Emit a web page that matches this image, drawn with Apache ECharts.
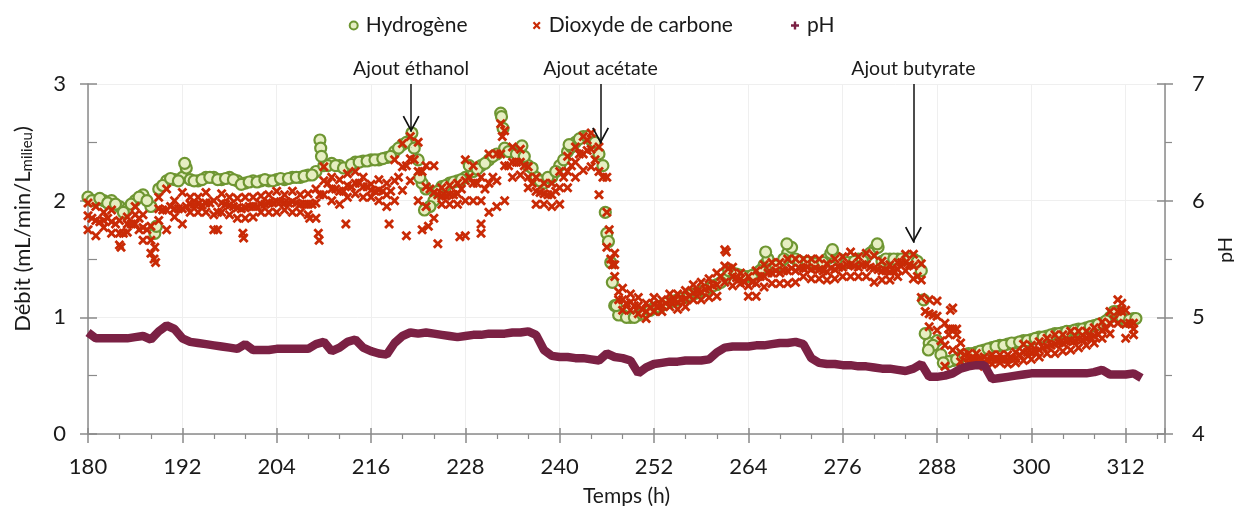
<!DOCTYPE html>
<html>
<head>
<meta charset="utf-8">
<script src="https://cdn.jsdelivr.net/npm/echarts@6/dist/echarts.min.js"></script>
<style>
html,body{margin:0;padding:0;background:#fff;}
#chart{width:1234px;height:506px;}
</style>
</head>
<body>
<div id="chart"></div>
<script>
// ---- Data ----
// Sampling grid: whole hours from 180 h, and half hours from 180.5 h
const startHour = 180;
// Hydrogène (mL/min/L) at whole hours 180 h .. 313 h
const h2 = [
  2.03,2.0,2.0,2.0,1.95,1.93,2.0,2.05,1.95,2.1,
  2.17,2.18,2.2,2.18,2.17,2.2,2.2,2.18,2.2,2.17,
  2.15,2.17,2.17,2.17,2.18,2.18,2.2,2.2,2.22,2.25,
  2.3,2.32,2.3,2.28,2.33,2.34,2.35,2.35,2.37,2.42,
  2.48,2.5,2.35,2.1,2.0,2.12,2.15,2.17,2.2,2.25,
  2.3,2.35,2.4,2.45,2.42,2.45,2.3,2.2,2.15,2.2,
  2.3,2.42,2.5,2.55,2.52,2.4,1.72,1.1,1.02,1.0,
  1.02,1.05,1.08,1.1,1.13,1.15,1.17,1.2,1.22,1.25,
  1.28,1.33,1.38,1.36,1.35,1.38,1.45,1.43,1.45,1.55,
  1.5,1.47,1.47,1.45,1.5,1.52,1.47,1.47,1.5,1.52,
  1.58,1.48,1.5,1.5,1.5,1.5,1.4,0.78,0.8,0.62,
  0.63,0.66,0.69,0.7,0.72,0.74,0.76,0.77,0.78,0.8,
  0.81,0.83,0.84,0.86,0.87,0.88,0.9,0.91,0.93,0.95,
  1.0,1.05,0.97,0.99
];
// Hydrogène at half hours 180.5 h .. 312.5 h
const h2Half = [
  2.0,2.02,1.98,1.97,1.9,1.97,2.03,2.0,1.72,2.13,
  2.19,2.17,2.28,2.17,2.18,2.2,2.18,2.19,2.18,2.14,
  2.16,2.16,2.18,2.17,2.19,2.19,2.2,2.21,2.22,2.52,
  2.3,2.3,2.28,2.31,2.33,2.34,2.35,2.36,2.38,2.45,
  2.5,2.45,2.15,1.95,2.08,2.13,2.16,2.18,2.3,2.27,
  2.32,2.38,2.75,2.42,2.4,2.38,2.28,2.17,2.2,2.25,
  2.35,2.46,2.53,2.55,2.5,2.3,1.47,1.02,1.0,1.0,
  1.03,1.06,1.09,1.12,1.14,1.16,1.19,1.21,1.23,1.27,
  1.3,1.4,1.37,1.35,1.36,1.4,1.5,1.44,1.5,1.6,
  1.48,1.47,1.46,1.47,1.55,1.5,1.47,1.48,1.5,1.55,
  1.6,1.5,1.5,1.5,1.5,1.48,0.86,0.76,0.68,0.62,
  0.64,0.68,0.69,0.71,0.73,0.75,0.76,0.78,0.79,0.8,
  0.82,0.83,0.85,0.86,0.88,0.89,0.9,0.92,0.94,0.97,
  1.05,1.0,0.98
];
// Extra hydrogen points (spikes and steep drops) as [h, value]
const h2Extra = [
  [188.7,1.78],[192.3,2.32],[209.6,2.45],[209.7,2.38],[221.2,2.58],[222.2,2.2],[222.8,1.92],
  [232.6,2.72],[232.8,2.62],[235.2,2.47],[241.2,2.48],[245.8,1.9],[246.2,1.65],[246.7,1.3],
  [247.2,1.1],[266.2,1.56],[268.9,1.63],[274.7,1.58],[280.4,1.63],[286.3,1.15],[286.9,0.72],
  [288.8,0.61],[313.3,0.99]
];
// Dioxyde de carbone: upper edge, middle and lower edge of the band at whole hours 180 h .. 313 h
const co2High = [
  1.98,1.95,1.9,1.92,1.83,1.86,1.95,1.88,1.78,2.03,
  2.1,2.0,2.07,2.03,2.03,2.07,2.0,2.06,2.03,2.02,
  2.03,2.03,2.04,2.05,2.08,2.05,2.08,2.05,2.06,2.1,
  2.29,2.2,2.18,2.23,2.25,2.2,2.14,2.18,2.15,2.35,
  2.49,2.55,2.5,2.3,2.3,2.11,2.13,2.15,2.35,2.3,
  2.2,2.4,2.4,2.6,2.46,2.44,2.29,2.2,2.15,2.15,
  2.25,2.38,2.46,2.55,2.58,2.46,2.2,1.55,1.25,1.2,
  1.17,1.12,1.17,1.15,1.2,1.2,1.23,1.28,1.3,1.33,
  1.38,1.58,1.43,1.38,1.35,1.4,1.45,1.47,1.47,1.5,
  1.5,1.5,1.5,1.5,1.46,1.5,1.52,1.56,1.52,1.55,
  1.53,1.48,1.45,1.47,1.54,1.54,1.46,1.15,1.14,0.95,
  1.08,0.78,0.69,0.69,0.66,0.68,0.68,0.68,0.7,0.77,
  0.76,0.79,0.82,0.85,0.85,0.88,0.88,0.88,0.91,0.96,
  1.05,1.15,1.06,0.95
];
const co2Mid = [
  1.87,1.83,1.83,1.82,1.72,1.8,1.88,1.77,1.66,1.93,
  1.92,1.93,1.93,1.97,1.97,1.98,1.88,1.98,1.96,1.94,
  1.94,1.95,1.97,1.98,1.99,1.98,1.99,1.97,1.97,1.98,
  2.17,2.1,2.08,2.13,2.15,2.12,2.09,2.09,2.05,2.17,
  2.29,2.36,2.25,2.12,2.07,2.04,2.05,2.06,2.17,2.15,
  2.0,2.15,2.17,2.3,2.33,2.33,2.2,2.08,2.06,2.05,
  2.11,2.25,2.33,2.4,2.44,2.25,1.9,1.45,1.15,1.13,
  1.1,1.05,1.11,1.1,1.14,1.13,1.16,1.21,1.22,1.25,
  1.28,1.44,1.35,1.33,1.27,1.29,1.35,1.38,1.38,1.4,
  1.4,1.42,1.41,1.41,1.39,1.41,1.43,1.45,1.43,1.45,
  1.42,1.4,1.39,1.41,1.47,1.44,1.32,1.03,1.01,0.76,
  0.9,0.7,0.65,0.64,0.62,0.64,0.64,0.64,0.65,0.7,
  0.7,0.72,0.75,0.77,0.78,0.8,0.81,0.82,0.84,0.89,
  0.95,1.05,0.94,0.9
];
const co2Low = [
  1.75,1.7,1.77,1.72,1.62,1.73,1.8,1.66,1.55,1.83,
  1.75,1.86,1.8,1.9,1.9,1.9,1.75,1.9,1.88,1.85,
  1.85,1.86,1.9,1.9,1.9,1.92,1.9,1.9,1.88,1.85,
  2.05,2.0,1.97,2.03,2.06,2.03,2.03,2.0,1.95,2.0,
  2.09,2.17,2.0,1.95,1.85,1.97,1.97,1.97,2.0,2.0,
  1.8,1.9,1.95,2.0,2.2,2.22,2.11,1.97,1.97,1.95,
  1.97,2.11,2.2,2.26,2.29,2.05,1.6,1.35,1.06,1.06,
  1.03,0.99,1.05,1.05,1.09,1.07,1.09,1.15,1.15,1.17,
  1.18,1.3,1.27,1.29,1.18,1.18,1.26,1.29,1.29,1.29,
  1.3,1.35,1.33,1.33,1.32,1.33,1.35,1.35,1.35,1.35,
  1.3,1.32,1.32,1.35,1.4,1.33,1.17,0.92,0.89,0.58,
  0.72,0.62,0.61,0.6,0.58,0.6,0.61,0.6,0.61,0.63,
  0.64,0.66,0.69,0.69,0.71,0.72,0.74,0.76,0.78,0.82,
  0.86,0.95,0.82,0.85
];
// Dioxyde de carbone: middle of the band at half hours 180.5 h .. 312.5 h
const co2Half = [
  1.85,1.82,1.85,1.8,1.72,1.8,1.85,1.75,1.6,1.92,
  1.95,1.93,1.95,1.97,1.96,1.98,1.9,1.97,1.95,1.93,
  1.95,1.95,1.97,1.98,1.99,1.98,1.98,1.97,1.97,2.05,
  2.15,2.1,2.08,2.12,2.15,2.12,2.08,2.08,2.08,2.2,
  2.3,2.35,2.25,2.1,2.05,2.04,2.05,2.1,2.2,2.15,
  2.1,2.2,2.4,2.3,2.33,2.3,2.15,2.07,2.05,2.08,
  2.2,2.3,2.4,2.43,2.35,2.2,1.5,1.15,1.12,1.1,
  1.07,1.08,1.1,1.12,1.14,1.15,1.18,1.22,1.24,1.27,
  1.35,1.42,1.34,1.3,1.3,1.35,1.38,1.4,1.4,1.42,
  1.42,1.43,1.42,1.4,1.42,1.43,1.45,1.44,1.45,1.43,
  1.41,1.4,1.4,1.47,1.45,1.35,1.05,1.02,0.8,0.9,
  0.85,0.68,0.65,0.64,0.63,0.64,0.65,0.65,0.68,0.7,
  0.71,0.74,0.76,0.78,0.79,0.8,0.81,0.83,0.85,0.9,
  0.98,1.05,0.95
];
// Extra carbon dioxide points (outliers, steep parts) as [h, value]
const co2Extra = [
  [184.2,1.6],[186.5,1.75],[188.4,1.5],[188.6,1.47],[196.5,1.75],[199.7,1.72],[199.8,1.68],
  [208.2,1.85],[209.3,1.72],[209.4,1.66],[212.8,1.8],[218.3,1.8],[220.5,1.7],[222.5,1.75],
  [223.3,1.78],[224.5,1.63],[227.3,1.69],[228,1.7],[230,1.72],[232.5,2.66],[232.7,2.55],
  [243.5,2.52],[246.3,1.75],[246.7,1.45],[247.5,1.22],[261.2,1.56],[289.5,0.85],[289.7,1.06],
  [290.5,0.9],[311.5,1.12]
];
// pH at whole hours 180 h .. 314 h
const ph = [
  4.87,4.82,4.82,4.82,4.82,4.82,4.83,4.84,4.81,4.88,
  4.93,4.9,4.82,4.79,4.78,4.77,4.76,4.75,4.74,4.73,
  4.77,4.72,4.72,4.72,4.73,4.73,4.73,4.73,4.73,4.77,
  4.79,4.71,4.74,4.79,4.81,4.74,4.71,4.69,4.68,4.78,
  4.84,4.87,4.86,4.87,4.86,4.85,4.84,4.83,4.84,4.85,
  4.85,4.86,4.86,4.86,4.87,4.87,4.88,4.85,4.72,4.67,
  4.66,4.66,4.65,4.65,4.64,4.63,4.69,4.66,4.65,4.63,
  4.52,4.57,4.6,4.61,4.62,4.62,4.63,4.63,4.63,4.64,
  4.7,4.74,4.75,4.75,4.75,4.76,4.76,4.77,4.78,4.78,
  4.79,4.77,4.65,4.61,4.6,4.6,4.59,4.59,4.58,4.58,
  4.57,4.56,4.56,4.55,4.54,4.56,4.6,4.49,4.49,4.5,
  4.52,4.56,4.58,4.59,4.59,4.47,4.48,4.49,4.5,4.51,
  4.52,4.52,4.52,4.52,4.52,4.52,4.52,4.52,4.53,4.55,
  4.51,4.51,4.51,4.52,4.48
];
// Annotations: [label, hour, arrow tip value]
const notes = [
  ['Ajout éthanol', 221.1, 2.59],
  ['Ajout acétate', 245.2, 2.49],
  ['Ajout butyrate', 285.0, 1.64]
];

const FONT = 'Lato, "Open Sans", sans-serif';
const pairs = (arr) => arr.map((v, i) => [startHour + i, v]);
const halfPairs = (arr) => arr.map((v, i) => [startHour + 0.5 + i, v]);

const xMark = 'path://M0,2L2,0L5,3L8,0L10,2L7,5L10,8L8,10L5,7L2,10L0,8L3,5Z';
const plusMark = 'path://M3.5,0H6.5V3.5H10V6.5H6.5V10H3.5V6.5H0V3.5H3.5Z';
const chevron = 'path://M5,0L5.2,0.3L4.8,0.3Z M5,10L10,20L9.1,20.5L5,12.2L0.9,20.5L0,20Z';

const axisGrey = '#8a8a8a';
const txt = '#1a1a1a';
const green = '#6e9632', greenFill = '#e6eec2', red = '#c92a06', purple = '#7b2144';
const chart = echarts.init(document.getElementById('chart'), null, {renderer: 'canvas'});

const legendBase = {
  top: 15, padding: 0, itemWidth: 8, itemHeight: 8,
  textStyle: {fontFamily: FONT, fontSize: 21, color: txt, padding: [0, 0, 0, 3]}
};

chart.setOption({
  animation: false,
  backgroundColor: '#ffffff',
  textStyle: {fontFamily: FONT},
  legend: [
    Object.assign({}, legendBase, {left: 348.7, data: [{name: 'Hydrogène'}]}),
    Object.assign({}, legendBase, {left: 532.7, data: [{name: 'Dioxyde de carbone'}]}),
    Object.assign({}, legendBase, {left: 791, data: [{name: 'pH', icon: plusMark}]})
  ],
  grid: {left: 88, right: 69, top: 84, bottom: 72, containLabel: false, outerBoundsMode: 'none'},
  xAxis: [{
    type: 'value', min: 180, max: 317, interval: 12,
    name: 'Temps (h)', nameLocation: 'middle', nameGap: 52,
    nameTextStyle: {fontFamily: FONT, fontSize: 21, color: txt},
    axisLine: {show: true, onZero: false, lineStyle: {color: axisGrey, width: 1.5}},
    axisTick: {show: true, length: 9, lineStyle: {color: axisGrey, width: 1.5}},
    minorTick: {show: true, splitNumber: 3, length: 5, lineStyle: {color: axisGrey, width: 1.2}},
    axisLabel: {fontFamily: FONT, fontSize: 22, color: txt, margin: 22,
      formatter: v => (v % 12 === 0 ? String(v) : '')},
    splitLine: {show: true, lineStyle: {color: '#efefef', width: 1}}
  }, {
    type: 'value', min: 180, max: 317, interval: 12, position: 'bottom',
    axisLine: {show: false}, axisLabel: {show: false}, splitLine: {show: false},
    axisTick: {show: true, inside: true, length: 6, lineStyle: {color: axisGrey, width: 1.5}}
  }],
  yAxis: [{
    type: 'value', min: 0, max: 3, interval: 1, position: 'left',
    name: 'Débit (mL/min/L{sub|milieu})', nameLocation: 'middle', nameGap: 53, nameRotate: 90,
    nameTextStyle: {fontFamily: FONT, fontSize: 22, color: txt, padding: [0, 0, 0, 60],
      rich: {sub: {fontFamily: FONT, fontSize: 15, color: txt, verticalAlign: 'bottom', padding: [9, 0, 0, 0]}}},
    axisLine: {show: true, onZero: false, lineStyle: {color: axisGrey, width: 1.5}},
    axisTick: {show: true, length: 8, lineStyle: {color: axisGrey, width: 1.5}},
    axisLabel: {fontFamily: FONT, fontSize: 22, color: txt, margin: 22},
    splitLine: {show: true, lineStyle: {color: '#efefef', width: 1}}
  }, {
    type: 'value', min: 4, max: 7, interval: 1, position: 'right',
    name: 'pH', nameLocation: 'middle', nameGap: 37, nameRotate: 90,
    nameTextStyle: {fontFamily: FONT, fontSize: 20, color: txt, padding: [0, 0, 0, 18]},
    axisLine: {show: true, onZero: false, lineStyle: {color: axisGrey, width: 1.5}},
    axisTick: {show: true, length: 8, lineStyle: {color: axisGrey, width: 1.5}},
    minorTick: {show: true, splitNumber: 2, length: 7, lineStyle: {color: axisGrey, width: 1.2}},
    axisLabel: {fontFamily: FONT, fontSize: 22, color: txt, margin: 27},
    splitLine: {show: false}
  }, {
    type: 'value', min: 0, max: 3, interval: 1, position: 'left',
    axisLine: {show: false}, axisLabel: {show: false}, splitLine: {show: false},
    axisTick: {show: true, inside: true, length: 9, lineStyle: {color: axisGrey, width: 1.5}},
    minorTick: {show: true, splitNumber: 2, length: 9, lineStyle: {color: axisGrey, width: 1.2}}
  }, {
    type: 'value', min: 4, max: 7, interval: 1, position: 'right',
    axisLine: {show: false}, axisLabel: {show: false}, splitLine: {show: false},
    axisTick: {show: true, inside: true, length: 8, lineStyle: {color: axisGrey, width: 1.5}}
  }],
  series: [{
    name: 'Hydrogène', type: 'scatter', xAxisIndex: 0, yAxisIndex: 0,
    symbol: 'circle', symbolSize: 11,
    itemStyle: {color: greenFill, borderColor: green, borderWidth: 2.2, opacity: 1},
    data: pairs(h2).concat(halfPairs(h2Half), h2Extra),
    markLine: {
      silent: true, animation: false,
      symbol: ['none', chevron], symbolSize: [17, 32],
      lineStyle: {color: '#111111', width: 1.5, type: 'solid'},
      label: {show: true, position: 'start', formatter: '{b}', fontFamily: FONT, fontSize: 19.5, color: txt, distance: 5},
      emphasis: {disabled: true},
      data: notes.map(n => [{name: n[0], coord: [n[1], 3]}, {coord: [n[1], n[2]]}])
    }
  }, {
    name: 'Dioxyde de carbone', type: 'scatter', xAxisIndex: 0, yAxisIndex: 0,
    symbol: xMark, symbolSize: 10,
    itemStyle: {color: red, opacity: 1},
    data: pairs(co2High).concat(pairs(co2Mid), pairs(co2Low), halfPairs(co2Half), co2Extra)
  }, {
    name: 'pH', type: 'line', xAxisIndex: 0, yAxisIndex: 1,
    symbol: 'none', showSymbol: false,
    lineStyle: {color: purple, width: 8.5},
    itemStyle: {color: purple},
    data: pairs(ph)
  }]
});
</script>
</body>
</html>
